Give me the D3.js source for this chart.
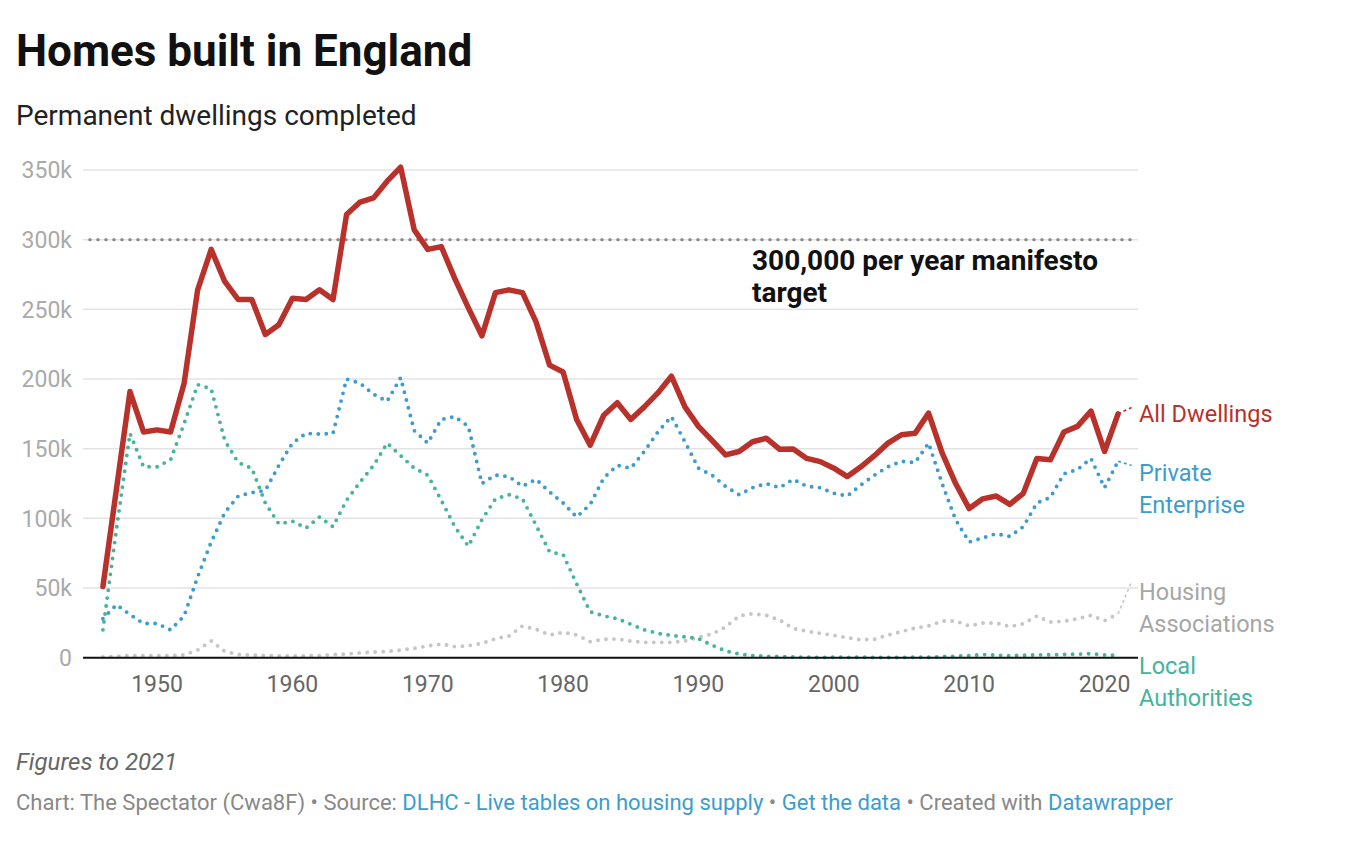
<!DOCTYPE html>
<html>
<head>
<meta charset="utf-8">
<script src="https://cdn.jsdelivr.net/npm/d3@7.9.0/dist/d3.min.js"></script>
<style>
  body { margin: 0; background: #fff; }
  svg { display: block; font-family: Roboto, "Noto Sans", sans-serif; }
</style>
</head>
<body>
<svg id="chart" width="1354" height="866"></svg>
<script>
// values in thousands of dwellings, 1946 .. 2022 (2022 is the dashed end piece)
const years = d3.range(1946, 2023);
const allDwellings = [51, 121, 191, 162, 163.5, 162, 197, 264, 293, 270, 257, 257, 232, 239, 258, 257, 264, 257, 318, 327,
  330, 342, 352, 307, 293, 295, 272, 251, 231, 262, 264, 262, 241, 210, 205, 171, 152.5, 174, 183, 171,
  180, 190, 202, 180, 166, 156, 145.5, 148, 155, 157.5, 149.6, 149.8, 143, 140.7, 136, 130, 137, 145, 154, 160,
  161, 175.5, 147, 125, 107, 114, 116, 110, 118, 143, 142, 162, 166, 177, 148, 175, 179.5];
const privateEnterprise = [28, 38, 31, 24.5, 24.5, 20, 30, 58, 83, 104, 116, 118.5, 120, 138, 154, 161, 160.5, 161, 200, 197,
  189, 184, 201, 163, 154, 171, 173, 166, 125, 131, 130, 123, 128, 119, 111, 101, 110, 129, 138, 136,
  148, 162, 173, 155, 136, 131, 123, 117, 122, 125, 122, 128, 123, 122, 118, 116, 124, 131, 137, 141,
  140, 154, 125, 99, 83, 86, 89, 87, 94, 111, 115, 132, 135, 143, 122, 141, 138];
const housingAssociations = [0.5, 1, 1.5, 1.5, 1.5, 1.5, 2, 5.5, 12, 4.5, 2.3, 1.9, 1.5, 1.3, 1.3, 1.3, 1.5, 2.2, 2.6, 3.5,
  4, 4.5, 5.5, 6.7, 8.4, 9.8, 7.9, 8.6, 10.3, 13.6, 15.6, 22.8, 20.4, 16.3, 18.2, 16.3, 11.5, 13.2, 13.4, 11.9,
  11, 11, 11, 12, 14.6, 17, 22, 30, 31.5, 30.4, 27, 21, 19, 17.5, 16, 14.4, 12.9, 13.2, 16.3, 18.7,
  21.3, 22.8, 26.3, 26.3, 22.8, 24.9, 24.9, 22.3, 24.4, 29.9, 25.6, 26.1, 28, 30.4, 26.6, 31.4, 54.6];
const localAuthorities = [20, 92, 161, 137, 137, 142, 168, 196, 193, 156, 140, 136, 111, 96, 98, 93, 101, 94, 113, 126,
  138, 154, 145, 136, 131, 113, 94, 80, 99, 114, 117, 114, 95, 76, 74, 53, 33, 30, 28, 24,
  20, 17.5, 16, 15, 13.6, 9, 4.8, 2.7, 1.5, 1, 0.8, 0.5, 0.4, 0.1, 0.4, 0.2, 0.3, 0.2, 0.1, 0.2,
  0.3, 0.3, 0.8, 1, 1.5, 2.3, 1.8, 1.4, 1.7, 2, 2.1, 2.3, 2.5, 2.9, 2, 1.6, null];
const lastFullYear = 2021;
const targetValue = 300;
const yTicks = [0, 50, 100, 150, 200, 250, 300, 350];
const xTicks = [1950, 1960, 1970, 1980, 1990, 2000, 2010, 2020];

const series = [
  { name: ['Housing', 'Associations'], values: housingAssociations, color: '#c6c6c6', text: '#a6a6a6', labelY: 600, solid: false },
  { name: ['Local', 'Authorities'], values: localAuthorities, color: '#45b49b', text: '#45b49b', labelY: 674, solid: false },
  { name: ['Private', 'Enterprise'], values: privateEnterprise, color: '#3c9dcd', text: '#3c9dcd', labelY: 481, solid: false },
  { name: ['All Dwellings'], values: allDwellings, color: '#b8312b', text: '#b8312b', labelY: 422, solid: true },
];

const svg = d3.select('#chart');
const x = d3.scaleLinear().domain([1946, 2022]).range([102.9, 1131.6]);
const y = d3.scaleLinear().domain([0, 350]).range([657.7, 170]);
const left = 83, right = 1138;

// title
svg.append('text').attr('x', 16).attr('y', 66).attr('font-size', 44).attr('font-weight', 700)
  .attr('fill', '#111').text('Homes built in England');
svg.append('text').attr('x', 16).attr('y', 125).attr('font-size', 28).attr('fill', '#222')
  .text('Permanent dwellings completed');

// grid
svg.append('g').selectAll('line').data(yTicks.filter(d => d > 0)).join('line')
  .attr('x1', left).attr('x2', right).attr('y1', d => y(d)).attr('y2', d => y(d))
  .attr('stroke', '#e3e3e3').attr('stroke-width', 1.5);
svg.append('g').selectAll('text').data(yTicks).join('text')
  .attr('x', 72).attr('y', d => y(d)).attr('dy', '0.36em').attr('text-anchor', 'end')
  .attr('font-size', 23).attr('fill', '#aaa').text(d => d === 0 ? '0' : d + 'k');

// target line
svg.append('line').attr('x1', 90).attr('x2', right).attr('y1', y(targetValue)).attr('y2', y(targetValue))
  .attr('stroke', '#888').attr('stroke-width', 3.4).attr('stroke-linecap', 'round').attr('stroke-dasharray', '0 8');

// series
const line = d3.line().defined(d => d[1] != null).x(d => x(d[0])).y(d => y(d[1]));
series.forEach(s => {
  const pts = years.map((yr, i) => [yr, s.values[i]]);
  const main = pts.filter(p => p[0] <= lastFullYear);
  const tail = pts.filter(p => p[0] >= lastFullYear && p[1] != null);
  const path = svg.append('path').datum(main).attr('d', line).attr('fill', 'none').attr('stroke', s.color)
    .attr('stroke-linejoin', 'round').attr('stroke-linecap', 'round');
  if (s.solid) path.attr('stroke-width', 5.5);
  else path.attr('stroke-width', 3.9).attr('stroke-dasharray', '0 8');
  if (tail.length > 1) {
    svg.append('path').datum(tail).attr('d', line).attr('fill', 'none').attr('stroke', s.color)
      .attr('stroke-width', 1.6).attr('stroke-dasharray', '3 3');
  }
  const t = svg.append('text').attr('x', 1139).attr('y', s.labelY).attr('font-size', 23.5).attr('fill', s.text);
  s.name.forEach((n, i) => t.append('tspan').attr('x', 1139).attr('dy', i ? 32 : 0).text(n));
});

// x axis
svg.append('line').attr('x1', left).attr('x2', right).attr('y1', y(0)).attr('y2', y(0))
  .attr('stroke', '#111').attr('stroke-width', 2);
svg.append('g').selectAll('text').data(xTicks).join('text')
  .attr('x', d => x(d)).attr('y', 692).attr('text-anchor', 'middle')
  .attr('font-size', 23).attr('fill', '#666').text(d => d);

// annotation
const ann = svg.append('text').attr('x', 752).attr('y', 270).attr('font-size', 28).attr('font-weight', 700).attr('fill', '#111');
ann.append('tspan').attr('x', 752).text('300,000 per year manifesto');
ann.append('tspan').attr('x', 752).attr('dy', 32).text('target');

// footer
svg.append('text').attr('x', 16).attr('y', 770).attr('font-size', 24).attr('font-style', 'italic')
  .attr('fill', '#666').text('Figures to 2021');
const foot = svg.append('text').attr('x', 16).attr('y', 810).attr('font-size', 22).attr('fill', '#888');
[['Chart: The Spectator (Cwa8F) • Source: ', '#888'], ['DLHC - Live tables on housing supply', '#3c9dcd'],
 [' • ', '#888'], ['Get the data', '#3c9dcd'], [' • Created with ', '#888'], ['Datawrapper', '#3c9dcd']]
  .forEach(([t, c]) => foot.append('tspan').attr('fill', c).text(t));
</script>
</body>
</html>
